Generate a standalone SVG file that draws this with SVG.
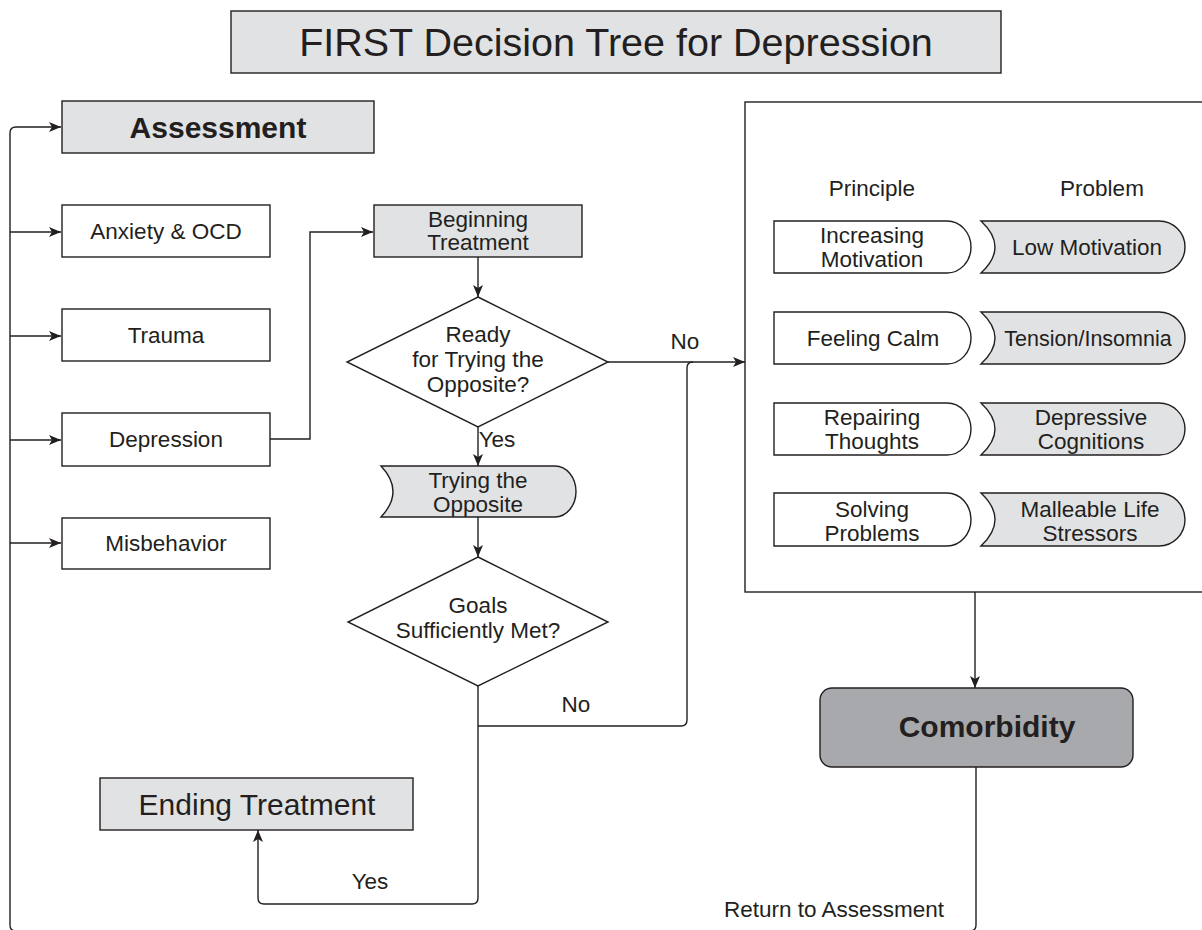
<svg xmlns="http://www.w3.org/2000/svg" width="1202" height="930" viewBox="0 0 1202 930">
<style>
.t{font-family:"Liberation Sans",Arial,sans-serif;fill:#231f20;text-anchor:middle}
.s{font-size:22.5px}
.b{font-size:30px;font-weight:bold}
.box{stroke:#231f20;stroke-width:1.4}
.g{fill:#e1e2e4}
.w{fill:#ffffff}
.c{fill:none;stroke:#231f20;stroke-width:1.4}
</style>
<defs>
<marker id="ah" markerUnits="userSpaceOnUse" viewBox="0 0 12 10" markerWidth="12" markerHeight="10" refX="12" refY="5" orient="auto">
<path d="M0,0 L12,5 L0,10 L3,5 Z" fill="#231f20"/>
</marker>
</defs>
<rect width="1202" height="930" fill="#fff"/>

<g id="title">
<rect class="box g" x="231" y="11" width="770" height="62"/>
<text class="t" x="616" y="56" font-size="39.5">FIRST Decision Tree for Depression</text>
</g>

<g id="connectors">
<path class="c" d="M976,767 V925 Q976,931 970,931 H16 Q10,931 10,925 V133 Q10,127 16,127 H61" marker-end="url(#ah)"/>
<path class="c" d="M10,232 H61" marker-end="url(#ah)"/>
<path class="c" d="M10,336 H61" marker-end="url(#ah)"/>
<path class="c" d="M10,440 H61" marker-end="url(#ah)"/>
<path class="c" d="M10,543 H61" marker-end="url(#ah)"/>
<path class="c" d="M270,439 H310 V232 H373" marker-end="url(#ah)"/>
<path class="c" d="M478,257 V297" marker-end="url(#ah)"/>
<path class="c" d="M608,362 H745" marker-end="url(#ah)"/>
<path class="c" d="M478,427 V466" marker-end="url(#ah)"/>
<path class="c" d="M478,517 V557" marker-end="url(#ah)"/>
<path class="c" d="M478,686 V898 Q478,904 472,904 H264 Q258,904 258,898 V830" marker-end="url(#ah)"/>
<path class="c" d="M478,726 H681 Q687,726 687,720 V368 Q687,362 693,362"/>
<path class="c" d="M975,592 V688" marker-end="url(#ah)"/>
<text class="t s" x="685" y="349">No</text>
<text class="t s" x="497" y="447">Yes</text>
<text class="t s" x="576" y="712">No</text>
<text class="t s" x="370" y="889">Yes</text>
<text class="t s" x="834" y="917">Return to Assessment</text>
</g>

<g id="assessment">
<rect class="box g" x="62" y="101" width="312" height="52"/>
<text class="t b" x="218" y="138">Assessment</text>
</g>
<g id="anxiety">
<rect class="box w" x="62" y="205" width="208" height="52"/>
<text class="t s" x="166" y="239">Anxiety &amp; OCD</text>
</g>
<g id="trauma">
<rect class="box w" x="62" y="309" width="208" height="52"/>
<text class="t s" x="166" y="343">Trauma</text>
</g>
<g id="depression">
<rect class="box w" x="62" y="413" width="208" height="53"/>
<text class="t s" x="166" y="447">Depression</text>
</g>
<g id="misbehavior">
<rect class="box w" x="62" y="518" width="208" height="51"/>
<text class="t s" x="166" y="551">Misbehavior</text>
</g>

<g id="beginning">
<rect class="box g" x="374" y="205" width="208" height="52"/>
<text class="t s" x="478" y="227">Beginning</text>
<text class="t s" x="478" y="250">Treatment</text>
</g>
<g id="ready">
<polygon class="box w" points="478,297 608,362 478,427 347,362"/>
<text class="t s" x="478" y="342">Ready</text>
<text class="t s" x="478" y="367">for Trying the</text>
<text class="t s" x="478" y="392">Opposite?</text>
</g>
<g id="trying">
<path class="box g" d="M381,466 H555 A21,25.5 0 0 1 555,517 H381 Q405,491.5 381,466 Z"/>
<text class="t s" x="478" y="488">Trying the</text>
<text class="t s" x="478" y="512">Opposite</text>
</g>
<g id="goals">
<polygon class="box w" points="478,557 608,622 478,686 348,622"/>
<text class="t s" x="478" y="613">Goals</text>
<text class="t s" x="478" y="638">Sufficiently Met?</text>
</g>
<g id="ending">
<rect class="box g" x="100" y="778" width="313" height="52"/>
<text class="t" x="257" y="815" font-size="30">Ending Treatment</text>
</g>

<g id="modules">
<rect class="box w" x="745" y="102" width="470" height="490"/>
<text class="t s" x="872" y="196">Principle</text>
<text class="t s" x="1102" y="196">Problem</text>
</g>
<g id="p1">
<path class="box w" d="M774,221 H947 A24,26 0 0 1 947,273 H774 Z"/>
<text class="t s" x="872" y="243">Increasing</text>
<text class="t s" x="872" y="267">Motivation</text>
</g>
<g id="q1">
<path class="box g" d="M981,221 H1159 A26,26 0 0 1 1159,273 H981 Q1009,247 981,221 Z"/>
<text class="t s" x="1087" y="255">Low Motivation</text>
</g>
<g id="p2">
<path class="box w" d="M774,312 H947 A24,26 0 0 1 947,364 H774 Z"/>
<text class="t s" x="873" y="346">Feeling Calm</text>
</g>
<g id="q2">
<path class="box g" d="M981,312 H1159 A26,26 0 0 1 1159,364 H981 Q1009,338 981,312 Z"/>
<text class="t" x="1088" y="346" font-size="21.5">Tension/Insomnia</text>
</g>
<g id="p3">
<path class="box w" d="M774,403 H947 A24,26 0 0 1 947,455 H774 Z"/>
<text class="t s" x="872" y="425">Repairing</text>
<text class="t s" x="872" y="449">Thoughts</text>
</g>
<g id="q3">
<path class="box g" d="M981,403 H1159 A26,26 0 0 1 1159,455 H981 Q1009,429 981,403 Z"/>
<text class="t s" x="1091" y="425">Depressive</text>
<text class="t s" x="1091" y="449">Cognitions</text>
</g>
<g id="p4">
<path class="box w" d="M774,493 H947 A24,26.5 0 0 1 947,546 H774 Z"/>
<text class="t s" x="872" y="517">Solving</text>
<text class="t s" x="872" y="541">Problems</text>
</g>
<g id="q4">
<path class="box g" d="M981,493 H1159 A26,26.5 0 0 1 1159,546 H981 Q1009,519.5 981,493 Z"/>
<text class="t s" x="1090" y="517">Malleable Life</text>
<text class="t s" x="1090" y="541">Stressors</text>
</g>

<g id="comorbidity">
<rect class="box" x="820" y="688" width="313" height="79" rx="12" fill="#a8a9ac"/>
<text class="t b" x="987" y="737">Comorbidity</text>
</g>
</svg>
